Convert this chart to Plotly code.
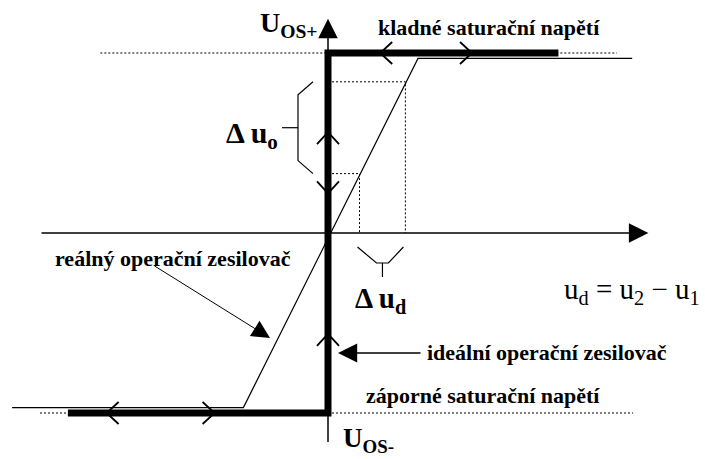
import plotly.graph_objects as go

# ---------------- data (u_d horizontal, u_o vertical, saturation = ±1) ----------------
U_OS_PLUS = 1.0
U_OS_MINUS = -1.0
ideal_ud = [-2.89, 0.0, 0.0, 2.56]
ideal_uo = [U_OS_MINUS, U_OS_MINUS, U_OS_PLUS, U_OS_PLUS]
real_ud = [-3.51, -0.94, 1.0, 3.38]
real_uo = [-0.97, -0.97, 0.97, 0.97]
sat_plus_ud = [-2.53, 3.21]
sat_minus_ud = [-3.2, 3.39]
delta_ud = [0.35, 0.86]
delta_uo = [0.33, 0.84]
x_axis_ud = [-3.2, 3.56]
y_axis_uo = [-1.17, 1.19]
flow_h_ud = [-2.46, -1.26, 0.58, 1.6]
flow_h_uo = [-1.0, -1.0, 1.0, 1.0]
flow_h_dir = [-1, 1, -1, 1]
flow_v_uo = [0.56, 0.22, -0.56]
flow_v_dir = [1, -1, 1]

# ---------------- layout scale (pixels per unit) ----------------
SX, SY = 90.0, 180.0
X0, Y0 = 328.0, 233.0
W, H = 705, 459
xr = [-X0 / SX, (W - X0) / SX]
yr = [-(H - Y0) / SY, Y0 / SY]

FONT = "Liberation Serif"
fig = go.Figure()

def line(x, y, width=1.2, dash="solid"):
    fig.add_trace(go.Scatter(x=x, y=y, mode="lines", hoverinfo="skip",
                             line=dict(color="black", width=width, dash=dash)))

# dotted saturation references
line(sat_plus_ud, [U_OS_PLUS, U_OS_PLUS], width=1, dash="2px,2px")
line(sat_minus_ud, [U_OS_MINUS, U_OS_MINUS], width=1, dash="2px,2px")

# dotted guides for delta
gx, gy = [], []
for ud, uo in zip(delta_ud, delta_uo):
    gx += [4 / SX, ud, ud, None]
    gy += [uo, uo, 0, None]
line(gx, gy, width=1, dash="2px,2px")

# real op-amp characteristic
line(real_ud, real_uo, width=1.2)
# ideal characteristic
line(ideal_ud, ideal_uo, width=7)

# chevrons (direction markers)
cx, cy = [], []
back, spread = 12.0, 11.0
for ud, uo, d in zip(flow_h_ud, flow_h_uo, flow_h_dir):
    bx = ud - d * back / SX
    cx += [bx, ud, bx, None]
    cy += [uo + spread / SY, uo, uo - spread / SY, None]
for uo, d in zip(flow_v_uo, flow_v_dir):
    by = uo - d * back / SY
    cx += [-spread / SX, 0, spread / SX, None]
    cy += [by, uo, by, None]
line(cx, cy, width=1.8)

# bracket for delta u_o
bx_spine = -30 / SX
bx_end = -15 / SX
dy = 13 / SY
mid = (delta_uo[0] + delta_uo[1]) / 2
line([bx_end, bx_spine, bx_spine, bx_end, None, bx_spine, -46 / SX],
     [delta_uo[1], delta_uo[1] - dy, delta_uo[0] + dy, delta_uo[0], None, mid, mid], width=1.2)

# bracket for delta u_d
by_top = -14 / SY
by_bot = -30 / SY
by_stem = -44 / SY
midx = (delta_ud[0] + delta_ud[1]) / 2
ins = 17 / SX
line([delta_ud[0] - 2 / SX, delta_ud[0] + ins, delta_ud[1] - ins, delta_ud[1] - 2 / SX, None, midx, midx],
     [by_top, by_bot, by_bot, by_top, None, by_bot, by_stem], width=1.2)

anns = []
# axes with arrowheads
anns.append(dict(x=x_axis_ud[1], y=0, ax=x_axis_ud[0], ay=0, xref="x", yref="y", axref="x", ayref="y",
                 showarrow=True, arrowhead=2, arrowsize=2.6, arrowwidth=1.5, arrowcolor="black",
                 standoff=0, startstandoff=0, text=""))
anns.append(dict(x=0, y=y_axis_uo[1], ax=0, ay=y_axis_uo[0], xref="x", yref="y", axref="x", ayref="y",
                 showarrow=True, arrowhead=2, arrowsize=2.6, arrowwidth=1.5, arrowcolor="black",
                 standoff=0, startstandoff=0, text=""))
# pointer arrows
anns.append(dict(x=(270 - X0) / SX, y=(Y0 - 338) / SY, ax=(153 - X0) / SX, ay=(Y0 - 265) / SY,
                 xref="x", yref="y", axref="x", ayref="y", showarrow=True, arrowhead=2,
                 arrowsize=3.6, arrowwidth=1, arrowcolor="black", standoff=0, text=""))
anns.append(dict(x=(338 - X0) / SX, y=(Y0 - 353) / SY, ax=(422 - X0) / SX, ay=(Y0 - 353) / SY,
                 xref="x", yref="y", axref="x", ayref="y", showarrow=True, arrowhead=2,
                 arrowsize=2.4, arrowwidth=1.6, arrowcolor="black", standoff=0, text=""))

def txt(text, x, y, size, xanchor="center", yanchor="middle", weight="bold"):
    anns.append(dict(text=text, x=x, y=y, xref="x", yref="y", showarrow=False,
                     xanchor=xanchor, yanchor=yanchor,
                     font=dict(family=FONT, size=size, color="black", weight=weight)))

txt("U<sub>OS+</sub>", (320 - X0) / SX, (Y0 - 24) / SY, 28, xanchor="right")
txt("U<sub>OS-</sub>", (341 - X0) / SX, (Y0 - 440) / SY, 27, xanchor="left")
txt("kladné saturační napětí", (489 - X0) / SX, (Y0 - 27) / SY, 22)
txt("Δ u<sub>o</sub>", (280 - X0) / SX, (Y0 - 135) / SY, 30, xanchor="right")
txt("Δ u<sub>d</sub>", (381 - X0) / SX, (Y0 - 300) / SY, 29)
txt("u<sub>d</sub> = u<sub>2</sub> − u<sub>1</sub>", (632 - X0) / SX, (Y0 - 291) / SY, 29, weight="normal")
txt("reálný operační zesilovač", (173 - X0) / SX, (Y0 - 258) / SY, 22)
txt("ideální operační zesilovač", (425 - X0) / SX, (Y0 - 352) / SY, 22, xanchor="left")
txt("záporné saturační napětí", (483 - X0) / SX, (Y0 - 395) / SY, 22)

fig.update_layout(
    width=W, height=H, autosize=False,
    margin=dict(l=0, r=0, t=0, b=0, pad=0),
    paper_bgcolor="white", plot_bgcolor="white",
    showlegend=False, annotations=anns,
    xaxis=dict(range=xr, visible=False, fixedrange=True),
    yaxis=dict(range=yr, visible=False, fixedrange=True),
)
fig.write_html("out.html", config={"displayModeBar": False, "staticPlot": True},
               post_script="document.body.style.margin='0px';document.body.style.overflow='hidden';")
